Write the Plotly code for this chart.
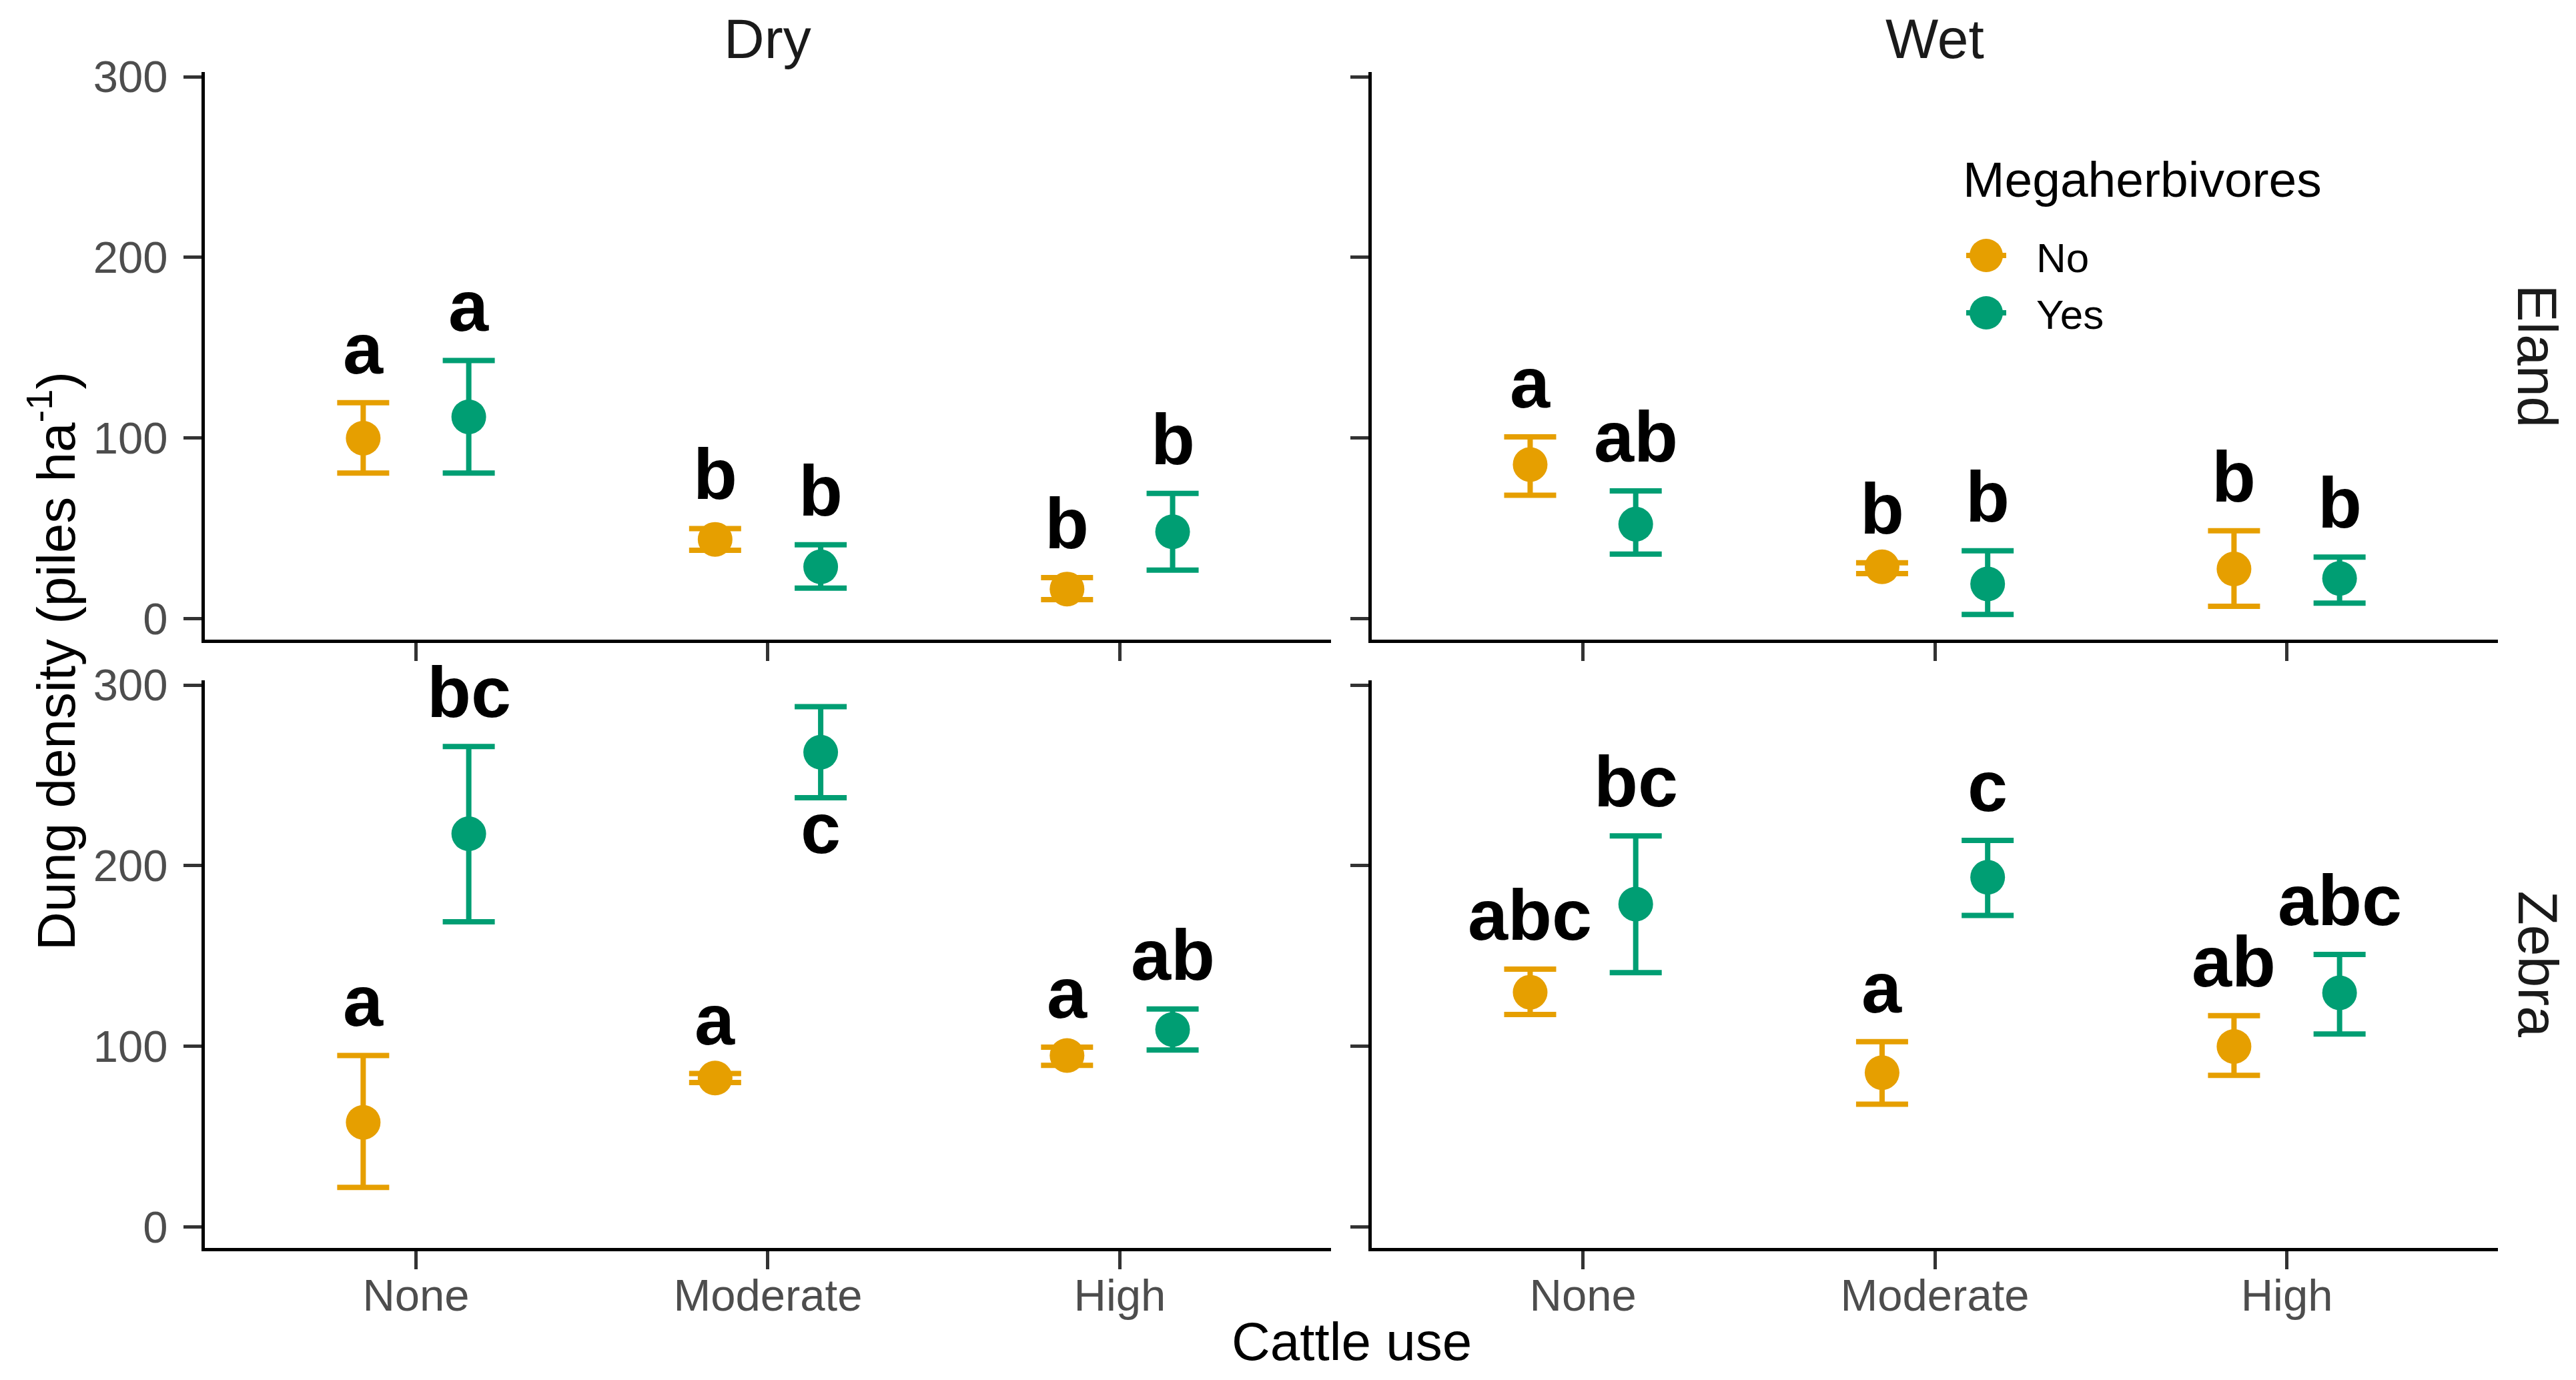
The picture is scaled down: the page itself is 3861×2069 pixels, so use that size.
import plotly.graph_objects as go
from plotly.subplots import make_subplots

# categories
cattle_use = ["None", "Moderate", "High"]
seasons = ["Dry", "Wet"]
species = ["Eland", "Zebra"]
megaherbivores = ["No", "Yes"]

# Dung density (piles/ha): mean, lower and upper error limit, significance letters
dry_eland_no_mean = [100.0, 44.0, 16.5]
dry_eland_no_low = [80.7, 38.0, 10.6]
dry_eland_no_high = [119.6, 50.0, 22.8]
dry_eland_no_letters = ["a", "b", "b"]

dry_eland_yes_mean = [111.8, 28.8, 48.2]
dry_eland_yes_low = [80.7, 17.0, 27.0]
dry_eland_yes_high = [143.0, 41.0, 69.4]
dry_eland_yes_letters = ["a", "b", "b"]

wet_eland_no_mean = [85.4, 28.8, 27.6]
wet_eland_no_low = [68.4, 25.0, 7.0]
wet_eland_no_high = [100.7, 31.0, 48.8]
wet_eland_no_letters = ["a", "b", "b"]

wet_eland_yes_mean = [52.4, 19.3, 22.4]
wet_eland_yes_low = [35.8, 2.4, 8.7]
wet_eland_yes_high = [70.8, 37.7, 34.2]
wet_eland_yes_letters = ["ab", "b", "b"]

dry_zebra_no_mean = [58.0, 82.5, 95.0]
dry_zebra_no_low = [22.0, 80.0, 89.5]
dry_zebra_no_high = [95.0, 85.0, 99.6]
dry_zebra_no_letters = ["a", "a", "a"]

dry_zebra_yes_mean = [217.7, 262.8, 109.4]
dry_zebra_yes_low = [169.0, 237.6, 98.0]
dry_zebra_yes_high = [266.0, 288.0, 120.7]
dry_zebra_yes_letters = ["bc", "c", "ab"]

wet_zebra_no_mean = [130.0, 85.5, 100.0]
wet_zebra_no_low = [117.7, 68.0, 84.0]
wet_zebra_no_high = [142.8, 102.6, 117.0]
wet_zebra_no_letters = ["abc", "a", "ab"]

wet_zebra_yes_mean = [178.8, 193.6, 129.7]
wet_zebra_yes_low = [140.8, 172.5, 106.9]
wet_zebra_yes_high = [216.5, 214.0, 150.9]
wet_zebra_yes_letters = ["bc", "c", "abc"]

data = {
    ("Dry", "Eland", "No"): (dry_eland_no_mean, dry_eland_no_low, dry_eland_no_high, dry_eland_no_letters),
    ("Dry", "Eland", "Yes"): (dry_eland_yes_mean, dry_eland_yes_low, dry_eland_yes_high, dry_eland_yes_letters),
    ("Wet", "Eland", "No"): (wet_eland_no_mean, wet_eland_no_low, wet_eland_no_high, wet_eland_no_letters),
    ("Wet", "Eland", "Yes"): (wet_eland_yes_mean, wet_eland_yes_low, wet_eland_yes_high, wet_eland_yes_letters),
    ("Dry", "Zebra", "No"): (dry_zebra_no_mean, dry_zebra_no_low, dry_zebra_no_high, dry_zebra_no_letters),
    ("Dry", "Zebra", "Yes"): (dry_zebra_yes_mean, dry_zebra_yes_low, dry_zebra_yes_high, dry_zebra_yes_letters),
    ("Wet", "Zebra", "No"): (wet_zebra_no_mean, wet_zebra_no_low, wet_zebra_no_high, wet_zebra_no_letters),
    ("Wet", "Zebra", "Yes"): (wet_zebra_yes_mean, wet_zebra_yes_low, wet_zebra_yes_high, wet_zebra_yes_letters),
}
# letters drawn under the error bar instead of above it
letters_below = {("Dry", "Zebra", "Yes", "Moderate")}

colors = {"No": "#E69F00", "Yes": "#009E73"}
dodge = {"No": -0.15, "Yes": 0.15}

# page is 3861x2069, the browser puts the plot div 8px in from the corner
OFF = 8
W, H = 3861 - 2 * OFF, 2069 - 2 * OFF
LEFT, RIGHT, TOP, BOTTOM = 307, 3744, 108, 1871  # plot area on the page
PW, PH = RIGHT - LEFT, BOTTOM - TOP

def px_x(p):
    return (p - LEFT) / PW

def px_y(p):
    return (BOTTOM - p) / PH

fig = make_subplots(rows=2, cols=2, horizontal_spacing=0.0178, vertical_spacing=0.0346)

letter_font = dict(family="Liberation Sans", size=108, color="black", weight="bold")
annotations = []
for r, sp in enumerate(species):
    for c, season in enumerate(seasons):
        n = r * 2 + c + 1
        ax = "" if n == 1 else str(n)
        for g in megaherbivores:
            mean, low, high, letters = data[(season, sp, g)]
            xs = [i + 1 + dodge[g] for i in range(len(cattle_use))]
            fig.add_trace(go.Scatter(
                x=xs, y=mean, mode="markers", showlegend=False,
                marker=dict(size=52, color=colors[g]),
                error_y=dict(type="data", symmetric=False,
                             array=[h - m for h, m in zip(high, mean)],
                             arrayminus=[m - l for m, l in zip(mean, low)],
                             color=colors[g], thickness=8, width=39),
            ), row=r + 1, col=c + 1)
            for i, lab in enumerate(letters):
                if (season, sp, g, cattle_use[i]) in letters_below:
                    annotations.append(dict(x=xs[i], y=low[i], xref="x" + ax, yref="y" + ax,
                                            text=lab, showarrow=False, xanchor="center",
                                            yanchor="top", yshift=17, font=letter_font))
                else:
                    annotations.append(dict(x=xs[i], y=high[i], xref="x" + ax, yref="y" + ax,
                                            text=lab, showarrow=False, xanchor="center",
                                            yanchor="bottom", yshift=19, font=letter_font))

axis_common = dict(showgrid=False, zeroline=False, showline=True, linecolor="black", linewidth=5,
                   ticks="outside", ticklen=27, tickwidth=5, tickcolor="#333333",
                   tickfont=dict(family="Liberation Sans", size=67, color="#4D4D4D"))
fig.update_xaxes(range=[0.4, 3.6], tickvals=[1, 2, 3], ticktext=cattle_use,
                 ticklabelstandoff=-18, **axis_common)
fig.update_yaxes(range=[-11.5, 302.6], tickvals=[0, 100, 200, 300], ticklabelstandoff=10, **axis_common)
fig.update_xaxes(showticklabels=False, row=1)
fig.update_yaxes(showticklabels=False, col=2)

# strip labels
xd1 = fig.layout.xaxis.domain
xd2 = fig.layout.xaxis2.domain
yd1 = fig.layout.yaxis.domain
yd3 = fig.layout.yaxis3.domain
strip_font = dict(family="Liberation Sans", size=84, color="#1A1A1A")
for season, xd in zip(seasons, [xd1, xd2]):
    annotations.append(dict(x=(xd[0] + xd[1]) / 2, y=px_y(58), xref="paper", yref="paper",
                            text=season, showarrow=False, xanchor="center", yanchor="middle",
                            font=strip_font))
for sp, yd in zip(species, [yd1, yd3]):
    annotations.append(dict(x=px_x(3803), y=(yd[0] + yd[1]) / 2, xref="paper", yref="paper",
                            text=sp, showarrow=False, textangle=90, xanchor="center",
                            yanchor="middle", font=strip_font))

# axis titles
annotations.append(dict(x=px_x(2026), y=px_y(2058), xref="paper", yref="paper", text="Cattle use",
                        showarrow=False, xanchor="center", yanchor="bottom",
                        font=dict(family="Liberation Sans", size=80, color="black")))
annotations.append(dict(x=px_x(78), y=px_y(991), xref="paper", yref="paper",
                        text="Dung density (piles ha<sup>-1</sup>)", textangle=-90,
                        showarrow=False, xanchor="center", yanchor="middle",
                        font=dict(family="Liberation Sans", size=80, color="black")))

# legend drawn by hand so the keys keep the point size
annotations.append(dict(x=px_x(2940), y=px_y(269), xref="paper", yref="paper", text="Megaherbivores",
                        showarrow=False, xanchor="left", yanchor="middle",
                        font=dict(family="Liberation Sans", size=75, color="black")))
for g, key_y in zip(megaherbivores, [383, 469]):
    fig.add_trace(go.Scatter(
        x=[px_x(2977)], y=[px_y(key_y)], xaxis="x5", yaxis="y5", mode="markers", showlegend=False,
        marker=dict(size=50, color=colors[g]),
        error_x=dict(type="constant", value=30 / PW, color=colors[g], thickness=8, width=0),
        hoverinfo="skip"))
    annotations.append(dict(x=px_x(3050), y=px_y(key_y + 3), xref="paper", yref="paper", text=g,
                            showarrow=False, xanchor="left", yanchor="middle",
                            font=dict(family="Liberation Sans", size=62, color="black")))

fig.update_layout(
    width=W, height=H, autosize=False,
    margin=dict(l=LEFT - OFF, r=W - (RIGHT - OFF), t=TOP - OFF, b=H - (BOTTOM - OFF),
                autoexpand=False),
    paper_bgcolor="white", plot_bgcolor="rgba(0,0,0,0)",
    font=dict(family="Liberation Sans"),
    xaxis5=dict(domain=[0, 1], range=[0, 1], visible=False, anchor="y5", fixedrange=True),
    yaxis5=dict(domain=[0, 1], range=[0, 1], visible=False, anchor="x5", fixedrange=True),
    annotations=annotations,
)

fig.write_html("out.html")
